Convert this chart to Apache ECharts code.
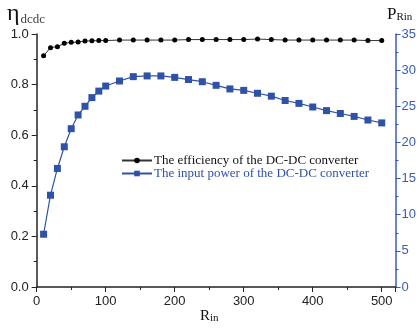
<!DOCTYPE html>
<html><head><meta charset="utf-8">
<script src="https://cdn.jsdelivr.net/npm/echarts@6/dist/echarts.min.js"></script>
<style>html,body{margin:0;padding:0;background:#fff}#c{width:419px;height:330px}</style>
</head><body><div id="c"></div>
<script>
const rin = [10,20,30,40,50,60,70,80,90,100,120,140,160,180,200,220,240,260,280,300,320,340,360,380,400,420,440,460,480,500];
const efficiency = [0.914,0.946,0.950,0.963,0.967,0.968,0.972,0.973,0.974,0.974,0.976,0.976,0.976,0.976,0.976,0.978,0.978,0.978,0.978,0.978,0.980,0.978,0.976,0.976,0.976,0.976,0.976,0.976,0.974,0.974];
const power = [7.3,12.7,16.4,19.4,21.9,23.8,25.0,26.2,27.1,27.8,28.5,29.1,29.2,29.2,29.0,28.7,28.4,27.9,27.4,27.2,26.8,26.4,25.8,25.4,24.9,24.4,24.0,23.6,23.1,22.7];
const seriesNames = ['The efficiency of the DC-DC converter','The input power of the DC-DC converter'];

const BLUE = '#2f52a8';
const AXBLUE = '#3a5cb8';
const chart = echarts.init(document.getElementById('c'), null, {renderer:'canvas'});
chart.setOption({
  animation:false,
  grid:{left:36.7, right:18.3, top:34, bottom:43},
  legend:{
    orient:'vertical', left:116, top:149, itemGap:0, itemWidth:30, itemHeight:7,
    textStyle:{fontFamily:'Liberation Serif', fontSize:13, lineHeight:11, padding:[0,0,0,-3]},
    data:[{name:seriesNames[0], textStyle:{color:'#111'}},{name:seriesNames[1], textStyle:{color:BLUE}}]
  },
  xAxis:{
    type:'value', min:0, max:520, interval:100,
    axisLine:{lineStyle:{color:'#222', width:1.5}},
    axisTick:{show:true, length:5, lineStyle:{color:'#222'}},
    minorTick:{show:true, splitNumber:2, length:3, lineStyle:{color:'#222'}},
    axisLabel:{showMaxLabel:false, color:'#222', fontFamily:'Liberation Sans', fontSize:13, margin:8},
    splitLine:{show:false}
  },
  yAxis:[{
    type:'value', min:0, max:1, interval:0.2, position:'left',
    axisLine:{show:true, lineStyle:{color:'#222', width:1.5}},
    axisTick:{show:true, length:5, lineStyle:{color:'#222'}},
    minorTick:{show:true, splitNumber:2, length:3, lineStyle:{color:'#222'}},
    axisLabel:{color:'#222', fontFamily:'Liberation Sans', fontSize:13, margin:8, formatter:v=>v.toFixed(1)},
    splitLine:{show:false}
  },{
    type:'value', min:0, max:35, interval:5, position:'right',
    axisLine:{show:true, lineStyle:{color:AXBLUE, width:1.5}},
    axisTick:{show:true, length:5, lineStyle:{color:AXBLUE}},
    minorTick:{show:true, splitNumber:2, length:3, lineStyle:{color:AXBLUE}},
    axisLabel:{color:AXBLUE, fontFamily:'Liberation Sans', fontSize:13, margin:6},
    splitLine:{show:false}
  }],
  series:[{
    name:seriesNames[0], type:'line', yAxisIndex:0, z:3,
    data:rin.map((x,i)=>[x,efficiency[i]]),
    symbol:'circle', symbolSize:5,
    itemStyle:{color:'#000'}, lineStyle:{color:'#333', width:1}
  },{
    name:seriesNames[1], type:'line', yAxisIndex:1, z:2,
    data:rin.map((x,i)=>[x,power[i]]),
    symbol:'rect', symbolSize:7,
    itemStyle:{color:BLUE}, lineStyle:{color:BLUE, width:1.2}
  }],
  graphic:[
    {type:'text', left:7, top:2, style:{text:'{a|η}{b|dcdc}', rich:{
      a:{fontFamily:'Liberation Serif', fontSize:24, fill:'#111', verticalAlign:'bottom'},
      b:{fontFamily:'Liberation Serif', fontSize:13, fill:'#444', verticalAlign:'bottom', padding:[0,0,0,1]}}}},
    {type:'text', left:387, top:6, style:{text:'{a|P}{b|Rin}', rich:{
      a:{fontFamily:'Liberation Serif', fontSize:17, fill:'#111', verticalAlign:'bottom'},
      b:{fontFamily:'Liberation Serif', fontSize:11, fill:'#111', verticalAlign:'bottom'}}}},
    {type:'text', left:200, top:309, style:{text:'{a|R}{b|in}', rich:{
      a:{fontFamily:'Liberation Serif', fontSize:15, fill:'#111', verticalAlign:'bottom'},
      b:{fontFamily:'Liberation Serif', fontSize:11, fill:'#111', verticalAlign:'bottom'}}}}
  ]
});
</script></body></html>
